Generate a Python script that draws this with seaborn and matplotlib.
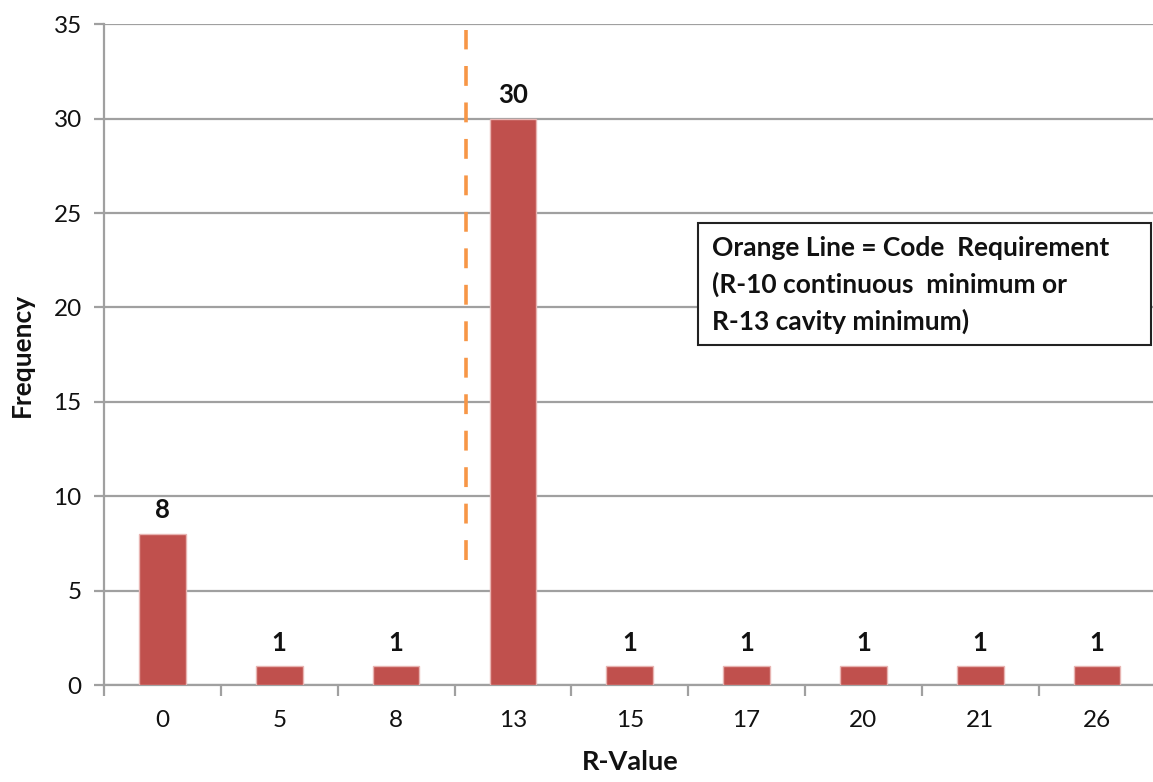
import matplotlib
matplotlib.use("Agg")
import matplotlib.pyplot as plt
from matplotlib.patches import Rectangle
from matplotlib.ticker import FixedLocator
import seaborn as sns
import pandas as pd

# R-value bins and how many walls fall into each
r_values = ["0", "5", "8", "13", "15", "17", "20", "21", "26"]
frequency = [8, 1, 1, 30, 1, 1, 1, 1, 1]
note_lines = [
    "Orange Line = Code  Requirement",
    "(R-10 continuous  minimum or",
    "R-13 cavity minimum)",
]

sns.set_theme(style="white")
plt.rcParams["font.family"] = ["Lato", "DejaVu Sans"]
plt.rcParams["text.color"] = "#111111"
plt.rcParams["xtick.labelcolor"] = "#111111"
plt.rcParams["ytick.labelcolor"] = "#111111"
plt.rcParams["axes.labelcolor"] = "#111111"

df = pd.DataFrame({"R-Value": r_values, "Frequency": frequency})

fig = plt.figure(figsize=(11.53, 7.82), dpi=100)
ax = fig.add_axes([0.0902, 0.124, 0.912, 0.845])

grid_c = "#a0a0a0"
bar_c = "#C0504D"

sns.barplot(data=df, x="R-Value", y="Frequency", order=r_values,
            color=bar_c, saturation=1, width=0.4,
            edgecolor="#e8b4b2", linewidth=1.0, ax=ax, zorder=3)

ax.set_ylim(0, 35)
ax.set_xlim(-0.5, len(r_values) - 0.5)
ax.set_yticks(range(0, 36, 5))
ax.yaxis.grid(True, color=grid_c, linewidth=1.6, zorder=0)
ax.set_axisbelow(True)

for s in ["top", "right"]:
    ax.spines[s].set_visible(False)
for s in ["left", "bottom"]:
    ax.spines[s].set_color(grid_c)
    ax.spines[s].set_linewidth(1.6)

ax.tick_params(axis="y", which="major", length=7, width=1.6, color=grid_c,
               direction="out", labelsize=17.5, pad=9, left=True)
ax.tick_params(axis="x", which="major", length=0, labelsize=17.5, pad=18)
ax.xaxis.set_minor_locator(FixedLocator([i - 0.5 for i in range(len(r_values) + 1)]))
ax.tick_params(axis="x", which="minor", length=8, width=1.6, color=grid_c,
               direction="out", bottom=True)

ax.set_xlabel("R-Value", fontsize=19.5, fontweight="bold", labelpad=14)
ax.set_ylabel("Frequency", fontsize=19, fontweight="bold", labelpad=14)

# value labels above each bar
for i, v in enumerate(frequency):
    ax.annotate(str(v), (i, v), xytext=(0, 17), textcoords="offset points",
                ha="center", va="center", fontsize=18.5, fontweight="bold")

# code requirement marker
ax.plot([2.6, 2.6], [6.6, 34.7], color="#F79646", linewidth=2.6,
        linestyle=(0, (5.5, 4.6)), zorder=4)

# note box
bx0, bx1 = (698 - 104) / 1051.5, (1151 - 104) / 1051.5
by_top, by_bot = 1 - (223 - 24) / 661, 1 - (345 - 24) / 661
ax.add_patch(Rectangle((bx0, by_bot), bx1 - bx0, by_top - by_bot,
                       transform=ax.transAxes, facecolor="white",
                       edgecolor="#222222", linewidth=1.5, zorder=5,
                       clip_on=False))
ax.text(bx0 + 0.013, by_top - 0.019, "\n".join(note_lines),
        transform=ax.transAxes, ha="left", va="top", fontsize=19,
        fontweight="bold", linespacing=1.55, zorder=6)

fig.savefig("out.png", dpi=100)
